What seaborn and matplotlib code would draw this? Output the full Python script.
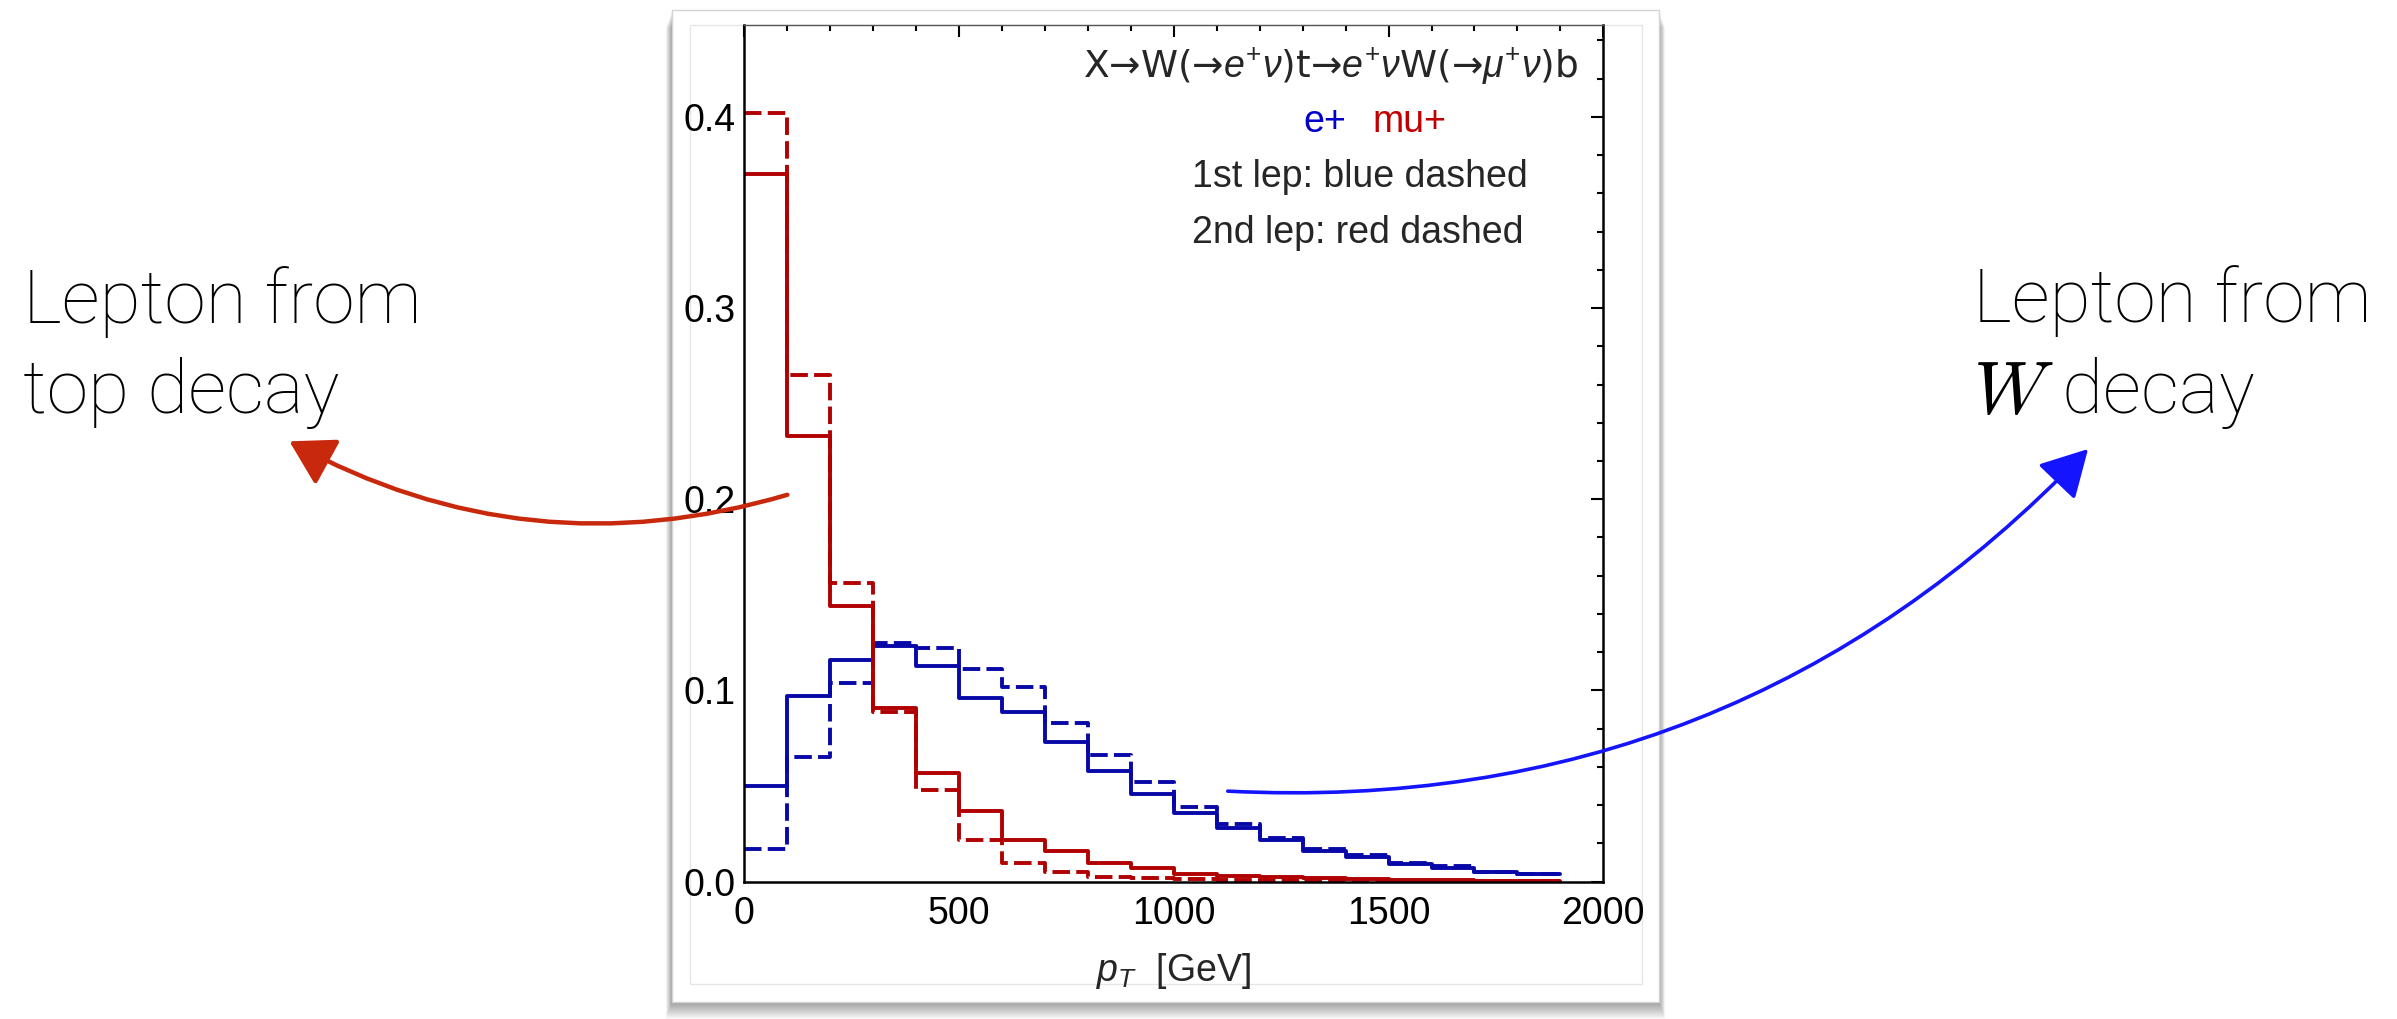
import numpy as np
import pandas as pd
import matplotlib
matplotlib.use("Agg")
import matplotlib.pyplot as plt
import seaborn as sns
from matplotlib.patches import Rectangle, FancyArrowPatch
from matplotlib.ticker import MultipleLocator

# pT bins [GeV], 100 GeV wide, 0 .. 1900
bin_edges = list(range(0, 2000, 100))
bin_centers = [e + 50 for e in bin_edges[:-1]]

# normalised distributions
e_solid = [0.050, 0.097, 0.116, 0.123, 0.113, 0.096, 0.089, 0.073, 0.058, 0.046,
           0.036, 0.028, 0.022, 0.016, 0.013, 0.009, 0.007, 0.005, 0.004]
e_dashed = [0.017, 0.065, 0.104, 0.125, 0.122, 0.111, 0.102, 0.083, 0.066, 0.052,
            0.039, 0.030, 0.023, 0.017, 0.014, 0.010, 0.008, 0.005, 0.004]
mu_solid = [0.370, 0.233, 0.144, 0.091, 0.057, 0.037, 0.022, 0.016, 0.010, 0.007,
            0.004, 0.003, 0.0024, 0.0019, 0.0015, 0.0011, 0.0008, 0.0006, 0.0005]
mu_dashed = [0.402, 0.265, 0.156, 0.089, 0.048, 0.022, 0.010, 0.005, 0.0025, 0.0019,
             0.0012, 0.0010, 0.0008, 0.0006, 0.0005, 0.0004, 0.0003, 0.0002, 0.0002]

x_ticks = [0, 500, 1000, 1500, 2000]
y_ticks = [0.0, 0.1, 0.2, 0.3, 0.4]

df = pd.DataFrame({"pt": bin_centers, "e_solid": e_solid, "e_dashed": e_dashed,
                   "mu_solid": mu_solid, "mu_dashed": mu_dashed})

sns.set_style("white")
plt.rcParams["font.family"] = ["Liberation Sans", "DejaVu Sans"]
plt.rcParams["mathtext.fontset"] = "custom"
plt.rcParams["mathtext.rm"] = "Liberation Sans"
plt.rcParams["mathtext.it"] = "Liberation Sans:italic"

W, H = 2397, 1019
fig = plt.figure(figsize=(W / 100, H / 100), dpi=100, facecolor="white")

def px(x, y):
    return x / W, (H - y) / H

# slide card with drop shadow
cx0, cy0, cx1, cy1 = 672, 10, 1659, 1002
for k in range(1, 18):
    fig.add_artist(Rectangle(px(cx0 - k * 0.35, cy1 + k), (cx1 - cx0 + k * 0.7) / W,
                             (cy1 - cy0) / H, transform=fig.transFigure,
                             facecolor="black", alpha=0.022, lw=0, zorder=-5))
fig.add_artist(Rectangle(px(cx0, cy1), (cx1 - cx0) / W, (cy1 - cy0) / H,
                         transform=fig.transFigure, facecolor="white",
                         edgecolor="#d4d4d4", lw=1.0, zorder=-4))
fig.add_artist(Rectangle(px(690, 984), (1642 - 690) / W, (984 - 25) / H,
                         transform=fig.transFigure, facecolor="white",
                         edgecolor="#e6e6e6", lw=1.0, zorder=-3))

ax_l, ax_r, ax_t, ax_b = 744.3, 1603.3, 25, 881.7
ax = fig.add_axes([ax_l / W, (H - ax_b) / H, (ax_r - ax_l) / W, (ax_b - ax_t) / H])
ax.set_facecolor("white")

blue = "#0808a8"
red = "#b00000"
lw = 2.8
for col, color, dashed in [("e_solid", blue, False), ("e_dashed", blue, True),
                           ("mu_solid", red, False), ("mu_dashed", red, True)]:
    kw = dict(dashes=(4.5, 1.6)) if dashed else {}
    sns.histplot(data=df, x="pt", weights=col, bins=bin_edges, element="step",
                 fill=False, color=color, linewidth=lw, ax=ax, **kw)

ax.set_xlim(0, 2000)
ax.set_ylim(0, 0.448)
ax.set_xticks(x_ticks)
ax.set_yticks(y_ticks)
ax.set_yticklabels([f"{v:.1f}" for v in y_ticks])
ax.xaxis.set_minor_locator(MultipleLocator(100))
ax.yaxis.set_minor_locator(MultipleLocator(0.02))
ax.tick_params(which="both", direction="in", top=True, right=True,
               width=1.5, colors="black", labelsize=27)
ax.tick_params(which="major", length=8.5)
ax.tick_params(which="minor", length=4.5)
ax.tick_params(axis="y", pad=6)
ax.tick_params(axis="x", pad=10)
for s in ax.spines.values():
    s.set_linewidth(1.8)
    s.set_color("black")
ax.spines["top"].set_color("#555555")
ax.spines["top"].set_linewidth(1.0)

ax.set_ylabel("")
ax.set_xlabel(r"$p_T$  [GeV]", fontsize=27, va="center")
ax.xaxis.set_label_coords(0.5, (ax_b - 971) / (ax_b - ax_t))

def axf(x, y):
    return (x - ax_l) / (ax_r - ax_l), (ax_b - y) / (ax_b - ax_t)

fs = 27
ax.text(*axf(1578, 66), r"X→W(→$e^{+}\nu$)t→$e^{+}\nu$W(→$\mu^{+}\nu$)b",
        transform=ax.transAxes, ha="right", va="center", fontsize=fs,
        family=["DejaVu Sans"], math_fontfamily="custom")
ax.text(*axf(1303, 122), "e+", color="#0000c8", transform=ax.transAxes,
        ha="left", va="center", fontsize=fs)
ax.text(*axf(1372, 122), "mu+", color="#c00000", transform=ax.transAxes,
        ha="left", va="center", fontsize=fs)
ax.text(*axf(1192, 177), "1st lep: blue dashed", transform=ax.transAxes,
        ha="left", va="center", fontsize=fs)
ax.text(*axf(1192, 233), "2nd lep: red dashed", transform=ax.transAxes,
        ha="left", va="center", fontsize=fs)

# slide annotations
big = dict(fontsize=54, family=["Roboto", "DejaVu Sans"], weight="light",
           va="baseline", ha="left", color="black")
fig.text(*px(23, 323), "Lepton from", **big)
fig.text(*px(23, 413), "top decay", **big)
fig.text(*px(1973, 322), "Lepton from", **big)
fig.text(*px(1973, 413), r"$W$ decay", math_fontfamily="cm", **big)

red_arrow = FancyArrowPatch(px(790, 494), px(287, 440), transform=fig.transFigure,
                            connectionstyle="arc3,rad=-0.21",
                            arrowstyle="-|>,head_length=1.35,head_width=0.8",
                            mutation_scale=20, color="#c8280c", lw=3.2, zorder=10)
fig.add_artist(red_arrow)
blue_arrow = FancyArrowPatch(px(1225, 791), px(2090, 447), transform=fig.transFigure,
                             connectionstyle="arc3,rad=0.23",
                             arrowstyle="-|>,head_length=1.45,head_width=0.8",
                             mutation_scale=20, color="#1414ff", lw=2.6, zorder=10)
fig.add_artist(blue_arrow)

fig.savefig("out.png", dpi=100, facecolor="white")
